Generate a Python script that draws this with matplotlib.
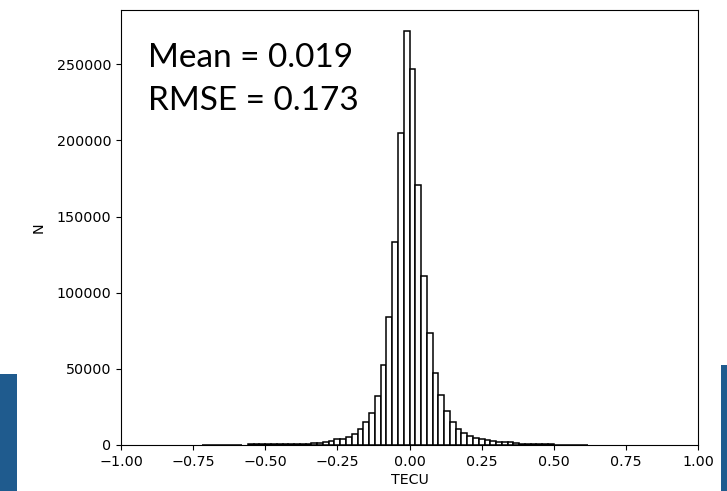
import numpy as np
import matplotlib
matplotlib.use("Agg")
import matplotlib.pyplot as plt
from matplotlib.patches import Rectangle

plt.rcParams["font.family"] = ["DejaVu Sans"]

# Histogram bins (width 0.02) from -0.72 to 0.62 and their counts
bin_start = -0.72
bin_width = 0.02
counts = [
    300, 300, 300, 300, 300, 300, 300,          # -0.72 .. -0.58
    0,                                          # -0.58 .. -0.56
    350, 350, 400, 400, 400, 450, 450, 500,     # -0.56 .. -0.40
    600, 700, 800, 1000, 1400,                  # -0.40 .. -0.30
    2000, 2800, 3700, 3900, 5000,               # -0.30 .. -0.20
    7200, 10300, 14900, 20800, 32400,           # -0.20 .. -0.10
    52600, 84000, 133000, 205000, 272000,       # -0.10 .. 0.00
    247000, 171000, 111000, 73500, 47600,       # 0.00 .. 0.10
    32500, 22000, 15000, 10300, 7900,           # 0.10 .. 0.20
    5700, 4400, 3900, 3100, 2300,               # 0.20 .. 0.30
    2000, 1800, 1700, 1300, 900,                # 0.30 .. 0.40
    600, 500, 450, 400, 350, 300, 300, 250, 250, 200, 200,  # 0.40 .. 0.62
]
xticks = [-1.00, -0.75, -0.50, -0.25, 0.00, 0.25, 0.50, 0.75, 1.00]
yticks = [0, 50000, 100000, 150000, 200000, 250000]
stats_text = ["Mean = 0.019", "RMSE = 0.173"]

counts = np.array(counts, dtype=float)
edges = np.round(bin_start + bin_width * np.arange(len(counts) + 1), 4)
left = edges[:-1]
mask = counts > 0

fig = plt.figure(figsize=(7.27, 4.91), dpi=100)
ax = fig.add_axes([121/727, 46/491, 577/727, 435/491])

ax.bar(left[mask], counts[mask], width=bin_width, align="edge",
       facecolor="white", edgecolor="black", linewidth=1.1)

ax.set_xlim(-1.0, 1.0)
ax.set_ylim(0, max(counts) * 1.05)
ax.set_xticks(xticks)
ax.set_xticklabels([f"{t:.2f}".replace("-", "\u2212") for t in xticks])
ax.set_yticks(yticks)
ax.set_yticklabels([str(t) for t in yticks])
ax.tick_params(labelsize=10.3)
ax.set_xlabel("TECU", fontsize=10.3, labelpad=3)
ax.set_ylabel("N", fontsize=10.3, labelpad=8)

fig.text(148/727, 1 - 66.7/491, stats_text[0], fontsize=24, family=["Lato", "DejaVu Sans"],
         ha="left", va="baseline")
fig.text(148/727, 1 - 110/491, stats_text[1], fontsize=24, family=["Lato", "DejaVu Sans"],
         ha="left", va="baseline")

blue = "#1f5b8e"
fig.patches.append(Rectangle((0, 0), 17/727, (491-374)/491, transform=fig.transFigure,
                             facecolor=blue, edgecolor="none"))
fig.patches.append(Rectangle((721/727, 0), 6/727, (491-365)/491, transform=fig.transFigure,
                             facecolor=blue, edgecolor="none"))

fig.savefig("out.png", dpi=100)
